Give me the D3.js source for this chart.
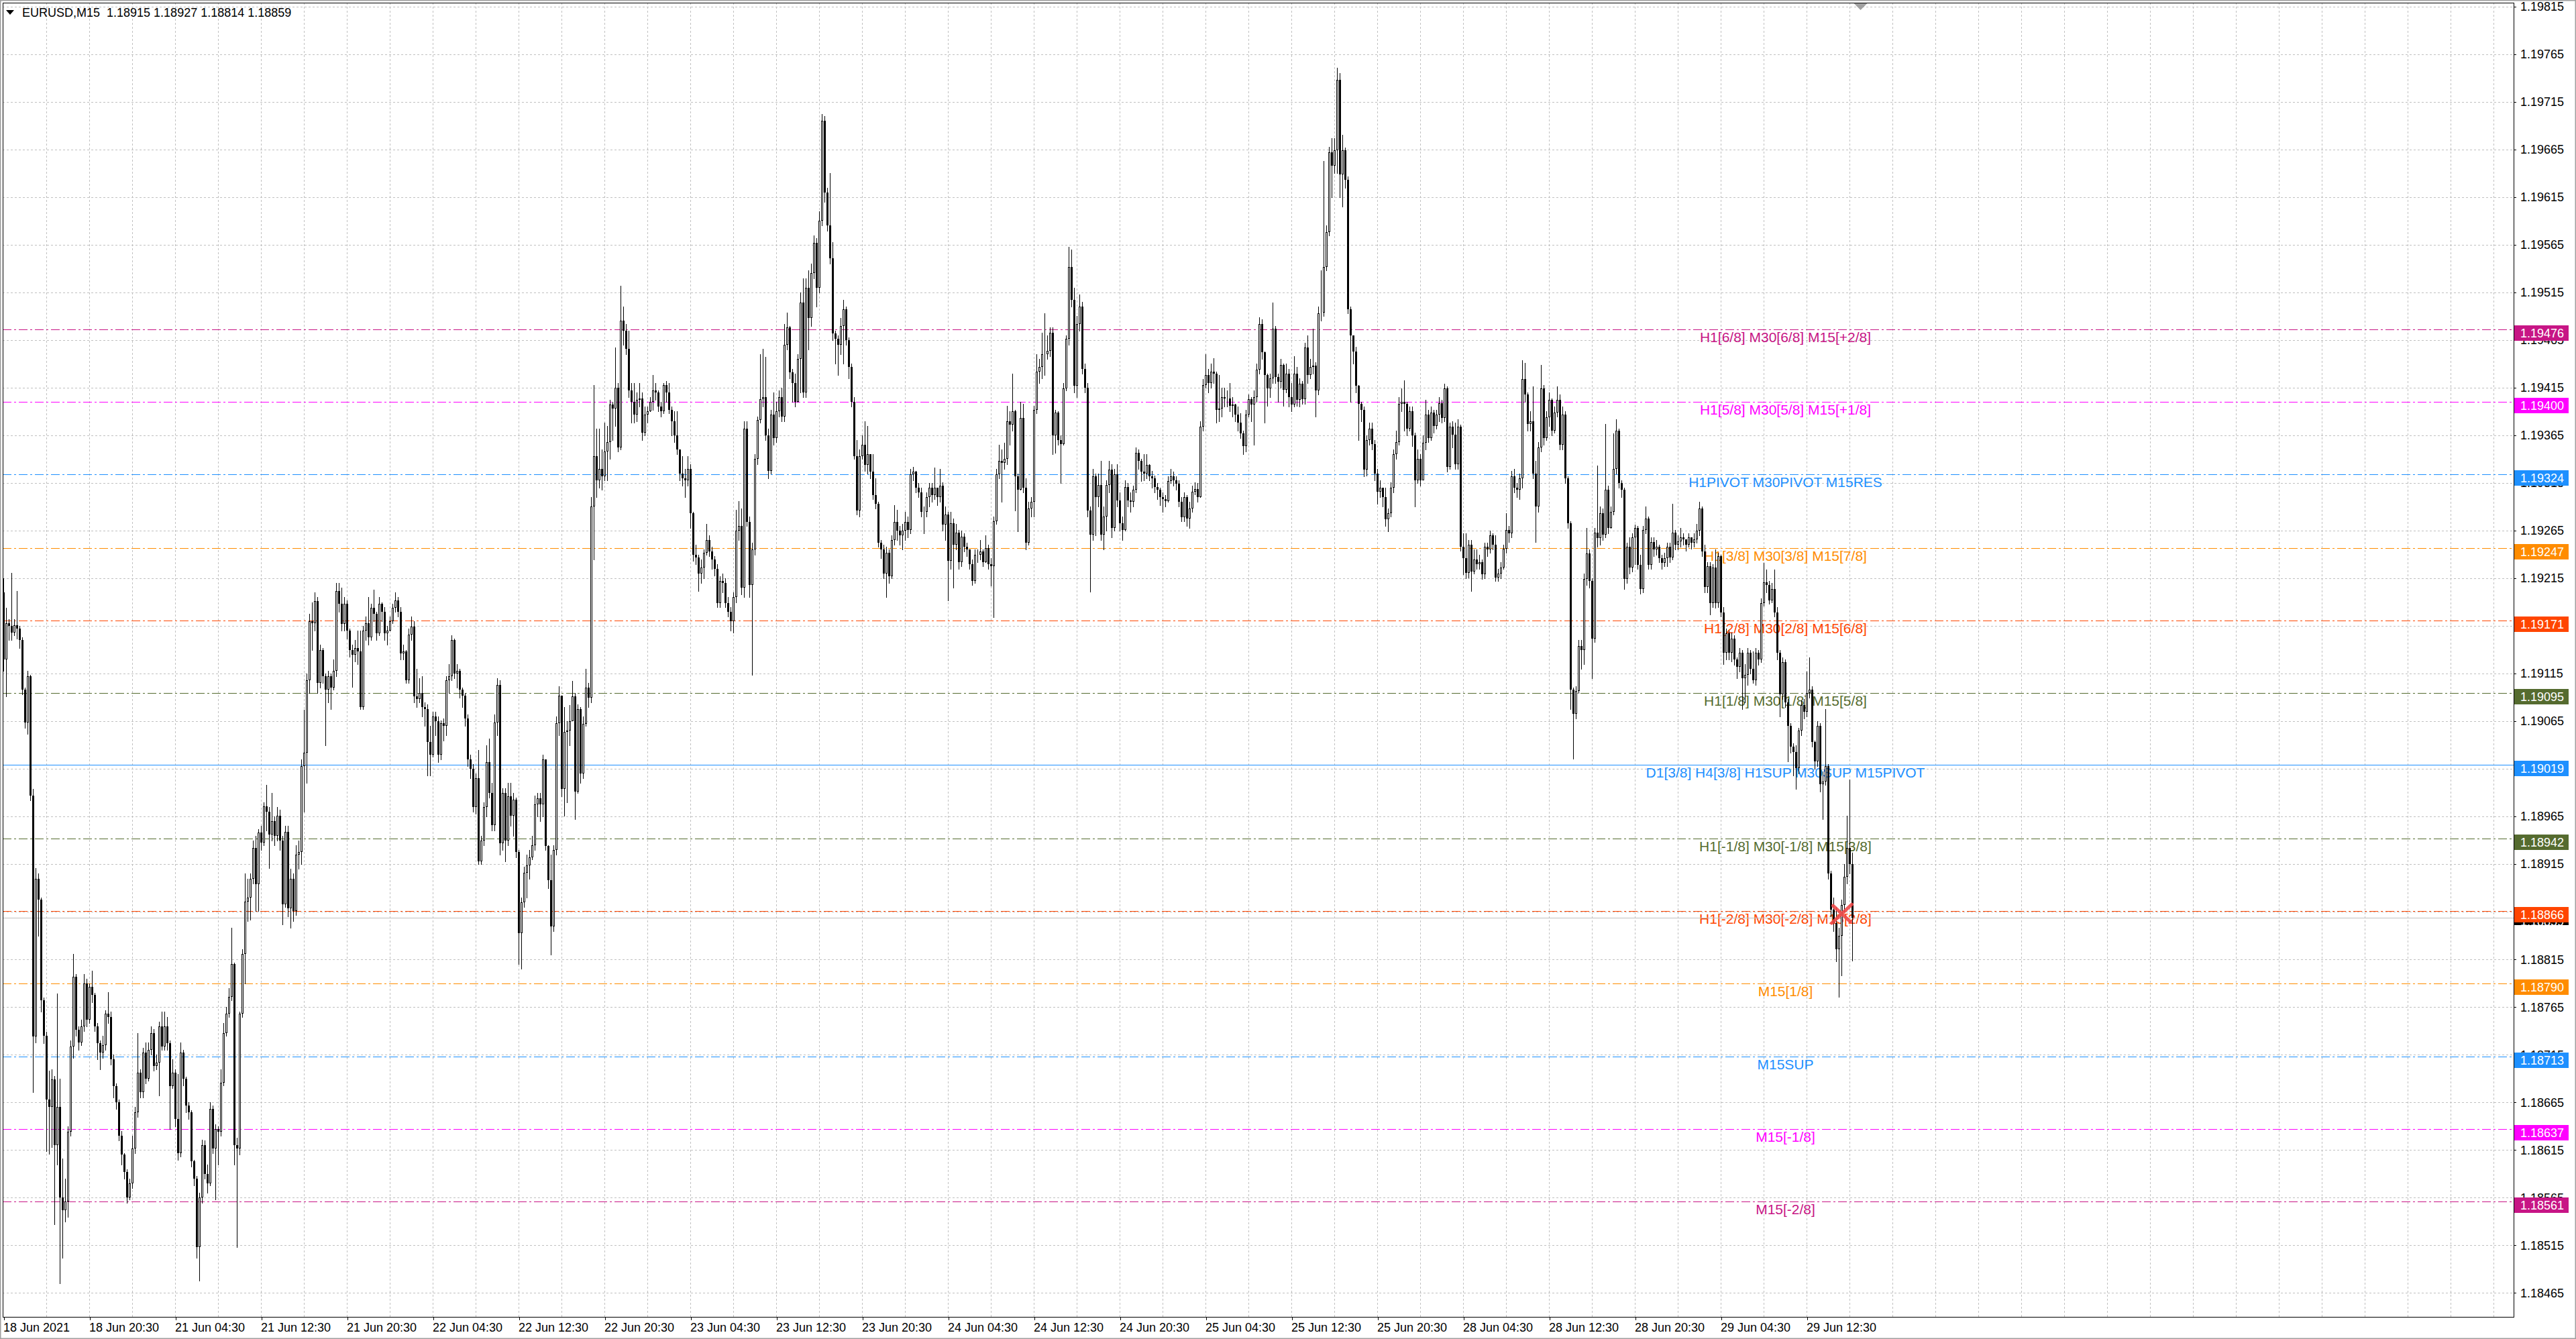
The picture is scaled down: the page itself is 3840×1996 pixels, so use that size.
<!DOCTYPE html>
<html lang="en">
<head>
    <meta charset="utf-8">
    <title>EURUSD,M15</title>
    <script src="https://d3js.org/d3.v7.min.js"></script>
    <style type="text/css">
        html, body {
            margin: 0;
            padding: 0;
            background: #fff;
        }
        svg {
            display: block;
        }
        .axis text, .title, .badge text {
            font-family: 'Liberation Sans', Arial, sans-serif;
            font-size: 18px;
        }
        .axis path.domain {
            display: none;
        }
        .axis line {
            stroke: #000;
            shape-rendering: crispEdges;
        }
        .grid line {
            stroke: #c0c0c0;
            stroke-dasharray: 3, 3;
            shape-rendering: crispEdges;
        }
        .level-text {
            font-family: 'Liberation Sans', Arial, sans-serif;
            font-size: 21px;
            text-anchor: middle;
        }
    </style>
</head>

<body>
    <svg id="chart"></svg>

    <script>
        // Prices are kept in points above 1.18000 (1 point = 0.00001)
        var base = 1.18, point = 0.00001;
        var title = "EURUSD,M15  1.18915 1.18927 1.18814 1.18859";

        var firstOpen = 1200;

        var closes = [
            1130,1168,1165,1158,1166,1162,1150,1098,1064,1112,987,734,900,878,772,735,668,660,689,620,
            660,565,552,561,634,724,797,741,728,745,790,752,786,778,745,727,717,725,758,755,
            710,682,665,630,610,592,565,580,617,655,696,676,717,690,720,738,703,707,745,724,
            745,727,682,696,648,612,717,690,662,655,603,585,513,565,620,590,580,658,617,637,
            634,686,738,758,776,810,620,617,758,821,876,880,900,932,894,948,938,976,970,946,
            960,945,966,940,873,949,869,900,866,925,928,1018,1032,1108,1170,1168,1191,1105,1140,1112,
            1098,1112,1100,1118,1202,1188,1167,1188,1160,1140,1135,1142,1138,1080,1160,1168,1153,1184,1178,1157,
            1188,1180,1157,1160,1170,1184,1192,1180,1136,1138,1108,1156,1164,1091,1088,1095,1080,1078,1043,1030,
            1070,1065,1030,1063,1060,1108,1112,1150,1115,1118,1098,1092,1068,1025,1015,
            975,1005,918,940,975,1022,990,956,1064,1103,937,990,940,986,966,983,928,843,875,906,
            914,922,935,978,984,978,1025,934,898,850,930,1063,1092,994,1054,1055,1065,1091,991,1078,
            1010,1062,1100,1090,1290,1343,1318,1330,1322,1348,1358,1397,1393,1415,1352,1485,1475,1456,1412,1400,
            1387,1402,1404,1368,1387,1390,1400,1412,1410,1395,1390,1418,1410,1392,1380,1365,1350,1325,1320,1318,
            1330,1283,1240,1237,1220,1226,1242,1255,1243,1235,1225,1189,1212,1210,1189,1180,1170,1195,1265,1270,
            1205,1372,1274,1208,1245,1340,1381,1403,1405,1365,1328,1387,1362,1390,1405,1385,1460,1478,1431,1420,
            1400,1445,1504,1410,1520,1488,1535,1567,1520,1590,1695,1620,1585,1551,1472,1466,1460,1480,1497,1465,
            1437,1400,1343,1286,1343,1355,1334,1345,1327,1302,1293,1252,1245,1220,1242,1217,1255,1274,1265,1260,
            1265,1274,1266,1324,1327,1310,1305,1285,1285,1300,1310,1302,1310,1300,1312,1271,1282,1233,1273,
            1250,1263,1232,1259,1248,1245,1230,1212,1240,1240,1243,1232,1247,1230,1228,1275,1324,1338,1336,1340,
            1380,1376,1390,1322,1308,1383,1310,1252,1288,1295,1392,1432,1437,1450,1450,1454,1473,1365,1389,1360,
            1356,1414,1466,1542,1507,1417,1482,1500,1435,1415,1286,1261,1322,1300,1313,1261,1280,1313,1329,1268,
            1324,1297,1273,1266,1311,1297,1295,1308,1347,1338,1327,1325,1334,1322,1320,1311,1308,1300,1298,1296,
            1317,1322,1318,1314,1295,1279,1300,1278,1288,1306,1309,1300,1374,1418,1428,1420,1432,1430,1392,1393,
            1405,1404,1404,1396,1397,1387,1378,1367,1354,1387,1403,1397,1405,1434,1482,1452,1428,1414,1425,1477,
            1426,1421,1439,1413,1430,1405,1397,1430,1402,1419,1403,1457,1428,1437,1438,1412,1493,1494,1542,1578,
            1662,1648,1664,1738,1639,1664,1633,1497,1470,1453,1417,1398,1392,1329,1360,1372,1356,1325,1306,1310,
            1300,1277,1283,1310,1345,1358,1398,1400,1398,1372,1390,1365,1318,1340,1318,
            1357,1387,1362,1389,1375,1387,1399,1383,1414,1332,1374,1366,1335,1374,1248,1236,1221,1250,1222,1235,
            1230,1232,1219,1248,1245,1260,1250,1216,1220,1226,1246,1266,1262,1322,1310,1308,1320,1424,1408,1377,
            1380,1325,1290,1352,1414,1362,1384,1402,1370,1389,1402,1355,1387,1320,1273,1098,1073,1097,1144,1140,
            1214,1241,1212,1152,1263,1257,1283,1261,1308,1268,1285,1330,1370,1315,1308,1214,1248,1226,1258,1268,
            1229,1204,1266,1278,1229,1253,1245,1248,1236,1231,1236,1248,1237,1263,1250,1254,1258,1256,1250,1258,
            1252,1256,1265,1288,1243,1206,1228,1189,1226,1189,1238,1179,1137,1157,1137,1152,1130,1122,1137,1110,
            1114,1137,1120,1108,1137,1130,1189,1211,1208,1192,1204,1179,1137,1093,1127,1085,1060,1038,1033,1016,
            1055,1082,1075,1095,1098,1043,1023,1060,999,1002,1018,905,867,853,826,840,872,902,932,915,
            859
        ];

        var highs = [
            1215,1184,1172,1221,1172,1202,1165,1153,1100,1118,1114,994,911,905,880,775,739,698,700,693,
            779,690,606,585,640,730,821,800,745,752,800,795,790,803,780,748,730,735,762,781,
            760,715,685,668,635,612,595,585,630,660,738,700,722,728,728,745,742,715,750,760,
            760,755,730,710,700,695,728,720,692,665,657,605,588,570,626,625,600,665,662,642,
            640,700,748,765,785,848,812,628,760,826,905,900,905,940,945,952,955,980,998,975,
            990,965,975,972,945,955,955,910,905,935,940,1025,1077,1115,1178,1190,1200,1195,1145,1142,
            1115,1118,1115,1130,1210,1210,1205,1195,1192,1162,1145,1150,1160,1160,1165,1175,1195,1188,1203,1180,
            1195,1190,1185,1165,1175,1188,1200,1195,1185,1145,1140,1162,1175,1170,1120,1110,1112,1085,1083,1060,
            1075,1075,1070,1066,1068,1112,1125,1155,1152,1125,1120,1100,1095,1072,1030,
            1020,1010,1035,945,980,1040,1047,1000,1072,1110,1108,995,995,1000,1000,990,985,930,880,912,
            925,930,945,987,990,990,1030,1025,935,925,935,1070,1102,1092,1080,1065,1082,1107,1095,1083,
            1080,1070,1120,1105,1300,1418,1372,1372,1350,1378,1375,1402,1400,1457,1420,1522,1500,1482,1475,1420,
            1420,1410,1420,1410,1395,1395,1405,1428,1420,1412,1400,1420,1422,1420,1395,1390,1390,1350,1343,1330,
            1343,1335,1285,1250,1240,1235,1245,1272,1260,1248,1238,1230,1217,1220,1215,1195,1185,1200,1287,1296,
            1288,1380,1380,1280,1252,1345,1385,1450,1456,1447,1372,1392,1410,1400,1412,1415,1482,1494,1480,1435,
            1430,1450,1515,1530,1530,1538,1545,1575,1572,1600,1702,1700,1625,1640,1568,1475,1470,1488,1507,1500,
            1468,1440,1405,1360,1350,1365,1380,1375,1345,1345,1320,1295,1255,1250,1248,1245,1260,1292,1287,1270,
            1272,1285,1280,1330,1332,1328,1315,1310,1290,1305,1315,1315,1331,1310,1330,1316,1290,1285,1285,
            1278,1272,1266,1265,1262,1252,1245,1235,1245,1245,1255,1245,1260,1250,1236,1280,1330,1355,1350,1357,
            1396,1390,1430,1392,1325,1400,1398,1320,1295,1300,1396,1450,1445,1473,1493,1470,1478,1478,1392,1390,
            1365,1420,1470,1563,1560,1520,1490,1513,1505,1440,1420,1290,1330,1325,1325,1338,1290,1318,1338,1335,
            1330,1335,1305,1280,1318,1315,1305,1312,1352,1350,1340,1345,1345,1335,1328,1323,1315,1310,1305,1302,
            1322,1330,1327,1322,1318,1300,1305,1302,1295,1312,1316,1315,1380,1424,1450,1435,1440,1446,1432,1428,
            1415,1415,1412,1420,1405,1398,1395,1388,1370,1392,1408,1405,1412,1440,1489,1487,1453,1430,1430,1504,
            1480,1430,1445,1440,1440,1435,1420,1448,1437,1425,1422,1462,1470,1445,1477,1442,1500,1538,1653,1585,
            1668,1677,1677,1751,1745,1680,1667,1637,1500,1470,1458,1418,1400,1395,1365,1378,1378,1360,1330,1318,
            1310,1310,1288,1316,1350,1370,1405,1414,1423,1400,1395,1395,1368,1350,1345,
            1365,1402,1392,1395,1392,1392,1405,1402,1419,1416,1378,1380,1378,1382,1376,1262,1262,1255,1255,1245,
            1245,1240,1235,1252,1252,1265,1262,1260,1225,1232,1250,1283,1270,1328,1330,1315,1325,1444,1441,1410,
            1390,1416,1338,1358,1439,1418,1390,1410,1404,1395,1416,1408,1395,1390,1322,1275,1100,1102,1150,1150,
            1220,1268,1245,1215,1268,1333,1290,1288,1377,1312,1290,1367,1382,1372,1318,1310,1252,1258,1262,1271,
            1270,1240,1270,1290,1280,1258,1258,1255,1250,1240,1242,1252,1252,1293,1266,1260,1268,1262,1256,1262,
            1258,1262,1272,1295,1290,1250,1232,1232,1230,1245,1242,1240,1185,1162,1160,1158,1155,1132,1142,1140,
            1125,1142,1140,1138,1142,1140,1194,1231,1224,1212,1210,1224,1185,1140,1132,1130,1088,1063,1042,1040,
            1058,1087,1088,1117,1132,1102,1045,1065,1063,1012,1078,1020,908,880,870,848,878,915,966,1004,
            927
        ];

        var lows = [
            1118,1091,1150,1150,1155,1152,1142,1093,1058,1052,982,676,728,840,760,727,614,611,618,537,
            600,475,502,540,545,630,712,735,720,725,740,745,748,770,740,710,700,712,720,748,
            705,670,658,625,600,585,560,563,575,612,650,670,670,685,688,715,698,700,672,720,
            720,720,637,680,640,605,608,683,655,648,598,578,502,478,560,585,570,578,612,563,
            600,630,683,735,755,772,600,513,610,755,790,855,857,895,866,866,930,935,950,911,
            940,935,940,930,852,870,860,848,855,862,910,915,970,1000,1095,1140,1160,1095,1100,1105,
            1040,1085,1078,1098,1112,1180,1160,1160,1152,1133,1101,1128,1125,1078,1078,1150,1145,1150,1170,1150,
            1155,1170,1150,1145,1160,1168,1180,1175,1130,1130,1105,1105,1150,1085,1080,1085,1070,1060,1008,1008,
            1028,1050,1022,1025,1045,1050,1095,1108,1110,1100,1090,1080,1060,1018,1005,
            970,968,915,915,935,965,985,950,950,1050,925,930,918,935,955,945,922,810,805,870,
            880,900,920,930,965,960,965,930,890,820,845,925,1050,986,966,980,1040,1070,962,990,
            1000,1005,1060,1080,1085,1235,1300,1310,1308,1318,1318,1340,1360,1375,1348,1350,1460,1450,1405,1378,
            1378,1380,1395,1360,1365,1378,1390,1392,1402,1390,1385,1388,1400,1388,1365,1358,1345,1318,1312,1300,
            1312,1268,1233,1230,1202,1210,1215,1240,1238,1225,1218,1185,1185,1200,1185,1175,1160,1158,1190,1255,
            1198,1195,1270,1195,1114,1240,1335,1378,1395,1360,1320,1325,1355,1358,1385,1380,1380,1455,1425,1400,
            1395,1400,1410,1405,1405,1455,1480,1530,1500,1515,1585,1610,1580,1545,1465,1440,1428,1450,1440,1460,
            1425,1395,1340,1282,1280,1340,1328,1325,1320,1298,1288,1248,1236,1215,1195,1210,1215,1250,1255,1250,
            1245,1255,1258,1262,1318,1305,1300,1280,1262,1280,1290,1295,1298,1292,1295,1265,1255,1192,1225,
            1205,1245,1225,1228,1243,1238,1225,1208,1210,1232,1235,1228,1232,1225,1207,1174,1272,1320,1295,1330,
            1335,1355,1370,1286,1264,1308,1305,1245,1250,1280,1280,1388,1420,1425,1428,1445,1448,1345,1347,1355,
            1315,1355,1412,1460,1500,1410,1405,1475,1430,1410,1280,1201,1255,1260,1290,1255,1245,1265,1305,1258,
            1265,1290,1265,1255,1265,1290,1285,1290,1305,1330,1317,1318,1320,1318,1310,1305,1298,1292,1285,1290,
            1295,1315,1312,1308,1290,1275,1275,1270,1268,1285,1303,1295,1300,1370,1415,1410,1415,1420,1378,1380,
            1385,1395,1395,1390,1385,1380,1370,1362,1345,1348,1385,1380,1355,1400,1430,1445,1378,1396,1405,1420,
            1420,1400,1415,1396,1410,1395,1390,1395,1396,1395,1398,1398,1420,1425,1430,1385,1408,1485,1490,1538,
            1575,1615,1640,1640,1615,1605,1625,1493,1400,1440,1410,1360,1380,1322,1323,1355,1350,1318,1293,1300,
            1290,1270,1264,1280,1305,1340,1355,1390,1370,1365,1370,1354,1290,1315,1312,
            1335,1350,1358,1360,1368,1372,1380,1378,1380,1327,1330,1352,1330,1330,1244,1219,1215,1216,1202,1220,
            1225,1225,1214,1215,1238,1242,1245,1212,1212,1215,1225,1242,1253,1258,1305,1300,1298,1310,1400,1370,
            1370,1320,1253,1285,1348,1355,1360,1375,1365,1368,1385,1350,1350,1315,1268,1078,1026,1068,1095,1120,
            1125,1208,1205,1110,1148,1248,1250,1255,1258,1262,1268,1282,1325,1310,1300,1204,1210,1220,1222,1230,
            1225,1199,1200,1262,1225,1225,1238,1240,1232,1225,1228,1228,1232,1235,1245,1245,1248,1250,1244,1248,
            1246,1248,1252,1260,1238,1200,1200,1177,1185,1184,1185,1175,1125,1130,1130,1128,1124,1110,1117,1078,
            1085,1103,1115,1105,1103,1124,1127,1186,1200,1188,1190,1175,1130,1070,1088,1080,1023,1032,1008,994,
            1010,1050,1068,1070,1090,1038,1015,1018,991,962,998,900,860,845,813,776,798,865,895,905,
            814
        ];

        // Rechte Preisachse
        var priceTicks = [
            1.18465, 1.18515, 1.18565, 1.18615, 1.18665, 1.18715, 1.18765, 1.18815, 1.18865,
            1.18915, 1.18965, 1.19015, 1.19065, 1.19115, 1.19165, 1.19215, 1.19265, 1.19315,
            1.19365, 1.19415, 1.19465, 1.19515, 1.19565, 1.19615, 1.19665, 1.19715, 1.19765, 1.19815
        ];

        // Zeitachse, one label every 32 bars
        var dateLabels = [
            "18 Jun 2021", "18 Jun 20:30", "21 Jun 04:30", "21 Jun 12:30", "21 Jun 20:30",
            "22 Jun 04:30", "22 Jun 12:30", "22 Jun 20:30", "23 Jun 04:30", "23 Jun 12:30",
            "23 Jun 20:30", "24 Jun 04:30", "24 Jun 12:30", "24 Jun 20:30", "25 Jun 04:30",
            "25 Jun 12:30", "25 Jun 20:30", "28 Jun 04:30", "28 Jun 12:30", "28 Jun 20:30",
            "29 Jun 04:30", "29 Jun 12:30"
        ];

        // Murrey / pivot levels
        var levelPrices = [1.19476, 1.19400, 1.19324, 1.19247, 1.19171, 1.19095, 1.19019,
                           1.18942, 1.18866, 1.18790, 1.18713, 1.18637, 1.18561];
        var levelNames = [
            "H1[6/8] M30[6/8] M15[+2/8]",
            "H1[5/8] M30[5/8] M15[+1/8]",
            "H1PIVOT M30PIVOT M15RES",
            "H1[3/8] M30[3/8] M15[7/8]",
            "H1[2/8] M30[2/8] M15[6/8]",
            "H1[1/8] M30[1/8] M15[5/8]",
            "D1[3/8] H4[3/8] H1SUP M30SUP M15PIVOT",
            "H1[-1/8] M30[-1/8] M15[3/8]",
            "H1[-2/8] M30[-2/8] M15[2/8]",
            "M15[1/8]",
            "M15SUP",
            "M15[-1/8]",
            "M15[-2/8]"
        ];
        var bidPrice = 1.18859;
        var markBar = 685, markPrice = 1.18863;

        // colours and styles of the level objects
        var levelColors = ["#c71585", "#ff00ff", "#1e90ff", "#ff8c00", "#ff4500", "#556b2f", "#1e90ff",
                           "#556b2f", "#ff4500", "#ff8c00", "#1e90ff", "#ff00ff", "#c71585"];

        var W = 3840, H = 1996;
        var plot = { left: 4, top: 4, right: 3747, bottom: 1963 };
        var barsPerLabel = 32, barsPerGrid = 16, labelBar = 664;

        var svg = d3.select("#chart")
            .attr("width", W)
            .attr("height", H);

        svg.append("rect")
            .attr("width", W).attr("height", H)
            .attr("fill", "#fff");

        // Skalen
        var x = d3.scaleLinear().domain([0, closes.length - 1]).range([5.5, 5.5 + 4 * (closes.length - 1)]);
        var y = d3.scaleLinear().domain([1.18440, 1.19819]).range([plot.bottom, plot.top]);

        function price(v) { return base + v * point; }

        var candles = closes.map(function (c, i) {
            return {
                i: i,
                o: price(i === 0 ? firstOpen : closes[i - 1]),
                h: price(highs[i]),
                l: price(lows[i]),
                c: price(c)
            };
        });

        // Grid
        var grid = svg.append("g").attr("class", "grid");
        grid.selectAll("line.h")
            .data(priceTicks)
            .enter().append("line")
            .attr("x1", plot.left).attr("x2", plot.right)
            .attr("y1", function (d) { return Math.round(y(d)) + 0.5; })
            .attr("y2", function (d) { return Math.round(y(d)) + 0.5; });

        var gridBars = d3.range(barsPerGrid, 1000, barsPerGrid).filter(function (b) { return x(b) < plot.right; });
        grid.selectAll("line.v")
            .data(gridBars)
            .enter().append("line")
            .attr("x1", function (d) { return x(d); })
            .attr("x2", function (d) { return x(d); })
            .attr("y1", plot.top).attr("y2", plot.bottom);

        // Level lines
        var levels = svg.append("g").attr("class", "levels");
        levels.selectAll("line")
            .data(levelPrices)
            .enter().append("line")
            .attr("x1", plot.left).attr("x2", plot.right)
            .attr("y1", function (d) { return Math.round(y(d)) + 0.5; })
            .attr("y2", function (d) { return Math.round(y(d)) + 0.5; })
            .attr("stroke", function (d, i) { return levelColors[i]; })
            .attr("stroke-width", 1.2)
            .attr("stroke-dasharray", function (d) { return d === 1.19019 ? null : "13,4,3,4"; });

        levels.selectAll("text")
            .data(levelPrices)
            .enter().append("text")
            .attr("class", "level-text")
            .attr("x", x(labelBar))
            .attr("y", function (d) { return y(d) + 19; })
            .attr("fill", function (d, i) { return levelColors[i]; })
            .text(function (d, i) { return levelNames[i]; });

        // Bid line
        svg.append("line")
            .attr("x1", plot.left).attr("x2", plot.right)
            .attr("y1", Math.round(y(bidPrice)) + 0.5)
            .attr("y2", Math.round(y(bidPrice)) + 0.5)
            .attr("stroke", "#c0c0c0")
            .attr("stroke-width", 1);

        // Kerzen: Dochte zuerst, dann Koerper
        var bars = svg.append("g").attr("class", "candles").attr("shape-rendering", "crispEdges");
        bars.selectAll("line")
            .data(candles)
            .enter().append("line")
            .attr("x1", function (d) { return x(d.i); })
            .attr("x2", function (d) { return x(d.i); })
            .attr("y1", function (d) { return Math.round(y(d.h)); })
            .attr("y2", function (d) { return Math.round(y(d.l)) + 1; })
            .attr("stroke", "#000")
            .attr("stroke-width", 1);

        bars.selectAll("rect.down")
            .data(candles.filter(function (d) { return d.c < d.o; }))
            .enter().append("rect")
            .attr("class", "down")
            .attr("x", function (d) { return x(d.i) - 1.5; })
            .attr("width", 3)
            .attr("y", function (d) { return Math.round(y(d.o)); })
            .attr("height", function (d) { return Math.max(1, Math.round(y(d.c)) - Math.round(y(d.o))); })
            .attr("fill", "#000");

        bars.selectAll("rect.up")
            .data(candles.filter(function (d) { return d.c >= d.o; }))
            .enter().append("rect")
            .attr("class", "up")
            .attr("x", function (d) { return x(d.i) - 1; })
            .attr("width", 2)
            .attr("y", function (d) { return Math.round(y(d.c)) + 0.5; })
            .attr("height", function (d) { return Math.max(0, Math.round(y(d.o)) - Math.round(y(d.c)) - 1); })
            .attr("fill", "#fff")
            .attr("stroke", "#000")
            .attr("stroke-width", 1);

        // red cross near the last bars
        var mx = x(markBar), my = y(markPrice);
        var mark = svg.append("g")
            .attr("stroke", "#f04a4a")
            .attr("stroke-width", 5)
            .attr("stroke-linecap", "round")
            .attr("opacity", 0.9);
        mark.append("line").attr("x1", mx - 13).attr("y1", my - 12).attr("x2", mx + 13).attr("y2", my + 12);
        mark.append("line").attr("x1", mx + 15).attr("y1", my - 14).attr("x2", mx - 15).attr("y2", my + 14);

        // Rahmen
        svg.append("rect")
            .attr("x", plot.left + 0.5).attr("y", plot.top + 0.5)
            .attr("width", plot.right - plot.left).attr("height", plot.bottom - plot.top)
            .attr("fill", "none")
            .attr("stroke", "#000")
            .attr("shape-rendering", "crispEdges");
        svg.append("rect")
            .attr("x", 0.5).attr("y", 0.5)
            .attr("width", W - 1).attr("height", H - 1)
            .attr("fill", "none")
            .attr("stroke", "#a0a0a0")
            .attr("stroke-width", 2);

        // chart shift marker
        var sx = x(closes.length + 2);
        svg.append("path")
            .attr("d", "M" + (sx - 10) + "," + (plot.top + 1) + "L" + (sx + 10) + "," + (plot.top + 1) + "L" + sx + "," + (plot.top + 11) + "Z")
            .attr("fill", "#a0a0a0");

        // Preisachse rechts
        var yAxis = d3.axisRight(y)
            .tickValues(priceTicks)
            .tickFormat(d3.format(".5f"))
            .tickSize(4)
            .tickPadding(6);
        var yG = svg.append("g")
            .attr("class", "axis")
            .attr("transform", "translate(" + plot.right + ",0)")
            .call(yAxis);
        yG.selectAll("text").attr("fill", "#000");

        // Zeitachse unten
        var dateBars = dateLabels.map(function (d, i) { return i * barsPerLabel; });
        var xAxis = d3.axisBottom(x)
            .tickValues(dateBars)
            .tickFormat(function (d, i) { return dateLabels[i]; })
            .tickSize(5)
            .tickPadding(4);
        var xG = svg.append("g")
            .attr("class", "axis")
            .attr("transform", "translate(0," + plot.bottom + ")")
            .call(xAxis);
        xG.selectAll("text")
            .attr("text-anchor", "start")
            .attr("x", -1)
            .attr("fill", "#000");

        // price badges on the axis (box hangs a little below its line), bid badge underneath
        var badges = svg.append("g").attr("class", "badge");
        var badgeData = [{ p: bidPrice, color: "#000", h: 17 }].concat(levelPrices.map(function (p, i) {
            return { p: p, color: levelColors[i], h: 23 };
        }));
        var badge = badges.selectAll("g")
            .data(badgeData)
            .enter().append("g")
            .attr("transform", function (d) { return "translate(" + (plot.right + 1) + "," + Math.round(y(d.p)) + ")"; });
        badge.append("rect")
            .attr("x", 0).attr("y", -6)
            .attr("width", 81)
            .attr("height", function (d) { return d.h; })
            .attr("fill", function (d) { return d.color; });
        badge.append("text")
            .attr("x", 9)
            .attr("y", 5.5)
            .attr("dy", "0.35em")
            .attr("fill", "#fff")
            .text(function (d) { return d.p.toFixed(5); });

        // Titel
        svg.append("path")
            .attr("d", "M9,15L21,15L15,22Z")
            .attr("fill", "#000");
        svg.append("text")
            .attr("class", "title")
            .attr("x", 33)
            .attr("y", 25)
            .attr("fill", "#000")
            .attr("xml:space", "preserve")
            .style("white-space", "pre")
            .text(title);
    </script>

</body>
</html>
